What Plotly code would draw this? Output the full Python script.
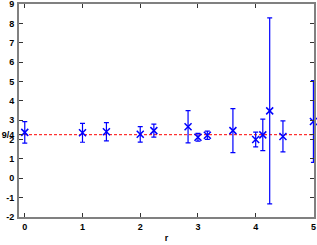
import math
import plotly.graph_objects as go

r_vals = [0, 1, math.sqrt(2), 2, math.sqrt(5), math.sqrt(8), 3, math.sqrt(10),
          math.sqrt(13), 4, math.sqrt(17), math.sqrt(18), math.sqrt(20), 5]
y_vals = [2.37, 2.35, 2.40, 2.27, 2.46, 2.66, 2.12, 2.22, 2.46, 2.00, 2.24, 3.48, 2.16, 2.93]
y_err = [0.56, 0.49, 0.47, 0.40, 0.34, 0.83, 0.20, 0.21, 1.14, 0.38, 0.81, 4.80, 0.80, 2.11]

ref_value = 9 / 4
x_range = [-0.1, 5.01]
y_range = [-2, 9]
y_tickvals = [-2, -1, 0, 1, 2, 3, 4, 5, 6, 7, 8, 9, ref_value]
y_ticktext = ["-2", "-1", "0", "1", "2", "3", "4", "5", "6", "7", "8", "9", "9/4"]
x_tickvals = [0, 1, 2, 3, 4, 5]

FONT = "Liberation Sans, Arial, sans-serif"

fig = go.Figure()
fig.add_trace(go.Scatter(
    x=x_range, y=[ref_value, ref_value], mode="lines",
    line=dict(color="#ff0000", width=1, dash="3px,2px"), hoverinfo="skip"))
fig.add_trace(go.Scatter(
    x=r_vals, y=y_vals, mode="markers", cliponaxis=False,
    marker=dict(symbol="x-thin", size=7, color="#0000ff", line=dict(color="#0000ff", width=1.5)),
    error_y=dict(type="data", array=y_err, visible=True, color="#0000ff", thickness=1.2, width=2.5)))

axis_common = dict(
    showgrid=False, zeroline=False, showline=True, linecolor="#808080", linewidth=2,
    mirror="ticks", ticks="inside", ticklen=4, tickcolor="#333333", tickwidth=1,
    automargin=False, ticklabeloverflow="allow",
    tickfont=dict(family=FONT, size=9, color="#000000", weight="bold"),
)
fig.update_xaxes(range=x_range, tickvals=x_tickvals, **axis_common,
                 title=dict(text="r", font=dict(family=FONT, size=9, color="#000000", weight="bold"), standoff=4))
fig.update_yaxes(range=y_range, tickvals=y_tickvals, ticktext=y_ticktext, ticklabelstandoff=1, **axis_common)
fig.update_layout(
    width=317, height=245, margin=dict(l=19, r=3, t=4, b=28),
    paper_bgcolor="white", plot_bgcolor="white", showlegend=False,
    font=dict(family=FONT, size=9, color="#000000"),
)
fig.write_html("out.html", config={"displayModeBar": False},
               post_script="document.body.style.margin='0';document.body.style.padding='0';")
